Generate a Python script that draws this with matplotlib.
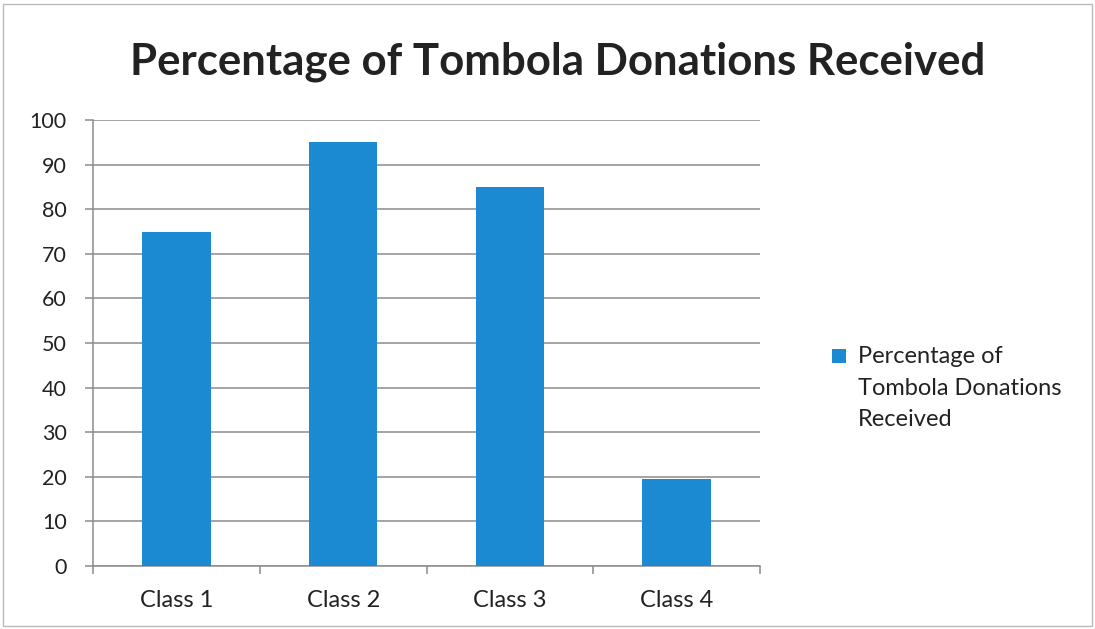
import matplotlib
matplotlib.use("Agg")
import matplotlib.pyplot as plt
from matplotlib.patches import Rectangle
from matplotlib.container import BarContainer
from matplotlib.legend_handler import HandlerPatch

categories = ["Class 1", "Class 2", "Class 3", "Class 4"]
values = [75, 95, 85, 19.6]
yticks = [0, 10, 20, 30, 40, 50, 60, 70, 80, 90, 100]
title = "Percentage of Tombola Donations Received"
legend_label = "Percentage of\nTombola Donations\nReceived"

plt.rcParams['font.family'] = ['Lato', 'DejaVu Sans']

fig = plt.figure(figsize=(10.95, 6.29), dpi=100)
fig.patch.set_facecolor("white")
ax = fig.add_axes([0.085, 0.1002, 0.609, 0.709])

bar_color = "#1C8AD3"
x = list(range(len(categories)))
bars = ax.bar(x, values, width=0.41, color=bar_color, zorder=3, label=legend_label)

ax.set_xlim(-0.5, len(categories) - 0.5)
ax.set_ylim(0, 100)
ax.set_yticks(yticks)
ax.set_yticklabels([str(t) for t in yticks], fontsize=15.5, color="#222222")
ax.yaxis.grid(True, color="#8c8c8c", linewidth=1.1, zorder=0)
ax.set_axisbelow(True)

ax.set_xticks(x)
ax.set_xticklabels(categories, fontsize=17, color="#222222")
ax.tick_params(axis="x", length=0, pad=17)
ax.set_xticks([i - 0.5 for i in range(len(categories) + 1)], minor=True)
ax.tick_params(axis="x", which="minor", length=6, color="#8c8c8c", width=1.1)
ax.tick_params(axis="y", length=6, color="#8c8c8c", width=1.1, pad=13)

for s in ["top", "right"]:
    ax.spines[s].set_visible(False)
for s in ["left", "bottom"]:
    ax.spines[s].set_color("#8c8c8c")
    ax.spines[s].set_linewidth(1.1)

fig.text(0.509, 0.902, title, ha="center", va="center", fontsize=31.5,
         fontweight="bold", color="#222222")


class TopHandler(HandlerPatch):
    def __init__(self, offset, **kw):
        super().__init__(**kw)
        self.offset = offset

    def create_artists(self, legend, orig_handle, xdescent, ydescent,
                       width, height, fontsize, trans):
        p = Rectangle((-xdescent, -ydescent + self.offset), width, height,
                      facecolor=bar_color, edgecolor="none", transform=trans)
        return [p]


leg = fig.legend(loc="center left", bbox_to_anchor=(0.740, 0.383), frameon=False,
                 fontsize=17, handlelength=0.6, handleheight=0.55,
                 handletextpad=0.5, labelspacing=0.3,
                 handler_map={BarContainer: TopHandler(offset=23)})
for t in leg.get_texts():
    t.set_color("#222222")
    t.set_linespacing(1.6)

fig.add_artist(Rectangle((0.003, 0.004), 0.994, 0.99, transform=fig.transFigure,
                         fill=False, edgecolor="#bbbbbb", linewidth=1.0))

fig.savefig("out.png", dpi=100, facecolor="white")
